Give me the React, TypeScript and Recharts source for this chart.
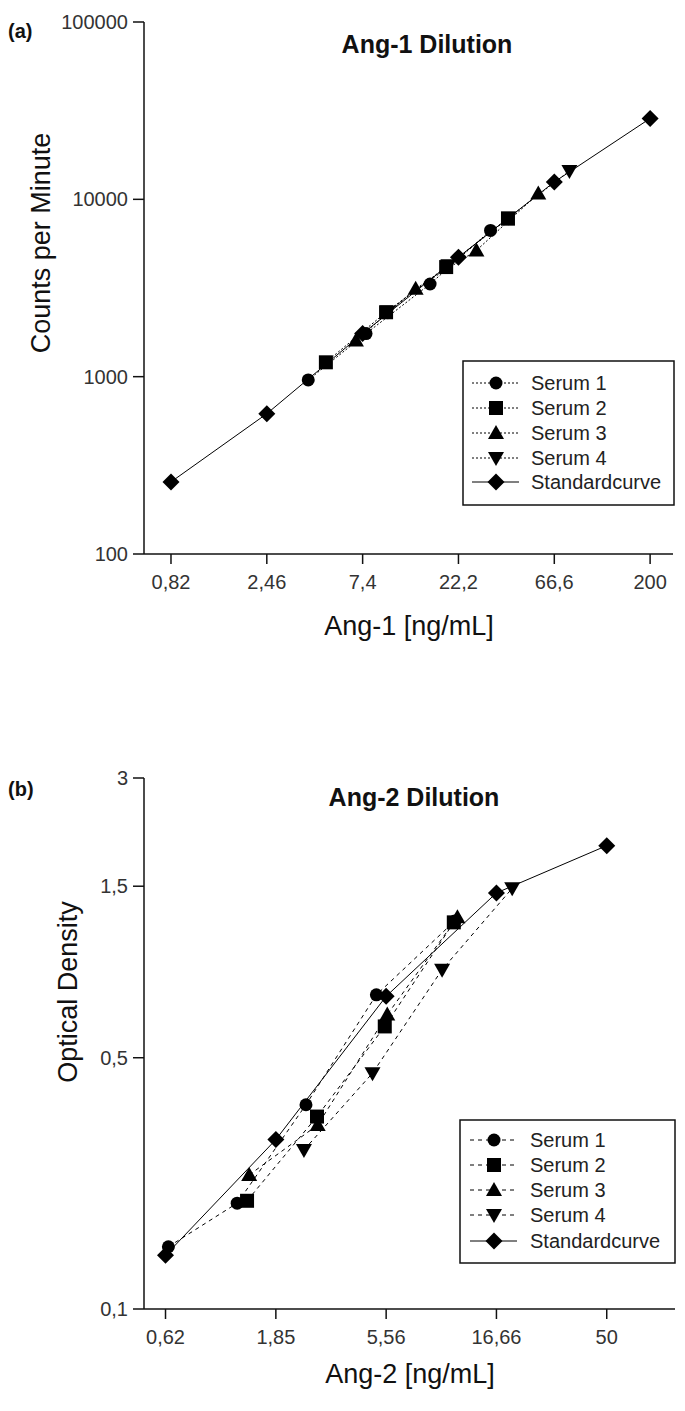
import React from 'react';
import { ScatterChart, Scatter, XAxis, YAxis } from 'recharts';

// ---------- Panel (a): Ang-1 dilution ----------
const ang1XTicks = [0.823, 2.469, 7.407, 22.22, 66.67, 200];
const ang1XLabels = ['0,82', '2,46', '7,4', '22,2', '66,6', '200'];
const ang1YTicks = [100, 1000, 10000, 100000];
const ang1YLabels = ['100', '1000', '10000', '100000'];

const ang1Serum1 = [[3.97, 958], [7.7, 1750], [16.05, 3330], [32.1, 6680]];
const ang1Serum2 = [[4.86, 1205], [9.69, 2308], [19.3, 4150], [39.2, 7780]];
const ang1Serum3 = [[6.86, 1597], [13.6, 3130], [27.3, 5150], [55.5, 10770]];
const ang1Serum4 = [[9.9, 2330], [19.8, 4250], [39.6, 7900], [79.3, 14450]];
const ang1Standard = [[0.823, 255], [2.469, 618], [7.407, 1750], [22.22, 4720], [66.67, 12530], [200, 28580]];

// ---------- Panel (b): Ang-2 dilution ----------
const ang2XTicks = [0.617, 1.852, 5.556, 16.667, 50];
const ang2XLabels = ['0,62', '1,85', '5,56', '16,66', '50'];
const ang2YTicks = [0.1, 0.5, 1.5, 3];
const ang2YLabels = ['0,1', '0,5', '1,5', '3'];

const ang2Serum1 = [[0.635, 0.149], [1.26, 0.197], [2.5, 0.37], [5.04, 0.748], [11.0, 1.2]];
const ang2Serum2 = [[1.39, 0.2], [2.79, 0.343], [5.48, 0.611], [10.9, 1.19]];
const ang2Serum3 = [[1.42, 0.236], [2.81, 0.325], [5.62, 0.659], [11.3, 1.23]];
const ang2Serum4 = [[2.45, 0.277], [4.85, 0.453], [9.7, 0.879], [19.5, 1.48]];
const ang2Standard = [[0.617, 0.141], [1.852, 0.296], [5.556, 0.741], [16.667, 1.437], [50, 1.945]];

const seriesNames = ['Serum 1', 'Serum 2', 'Serum 3', 'Serum 4', 'Standardcurve'];
const seriesKinds = ['circle', 'square', 'triangle', 'invtriangle', 'diamond'];

const toPts = (arr: number[][]) => arr.map(([x, y]) => ({ x, y }));

const FONT = '"Liberation Sans", Arial, sans-serif';

function Marker({ cx, cy, kind }: { cx: number; cy: number; kind: string }) {
  if (cx == null || cy == null || isNaN(cx) || isNaN(cy)) return null;
  const f = '#000';
  switch (kind) {
    case 'circle':
      return <circle cx={cx} cy={cy} r={6.5} fill={f} />;
    case 'square':
      return <rect x={cx - 7} y={cy - 7} width={14} height={14} fill={f} />;
    case 'triangle':
      return <polygon points={`${cx},${cy - 8} ${cx + 8},${cy + 6} ${cx - 8},${cy + 6}`} fill={f} />;
    case 'invtriangle':
      return <polygon points={`${cx},${cy + 8} ${cx + 8},${cy - 6} ${cx - 8},${cy - 6}`} fill={f} />;
    case 'diamond':
    default:
      return <polygon points={`${cx},${cy - 8.5} ${cx + 8.5},${cy} ${cx},${cy + 8.5} ${cx - 8.5},${cy}`} fill={f} />;
  }
}

const shapeFor = (kind: string) => (p: any) => <Marker cx={p.cx} cy={p.cy} kind={kind} />;

function Panel({
  data, xTicks, xLabels, yTicks, yLabels, xDomain, yDomain, top, height, marginTop, marginBottom, marginRight, dash,
}: any) {
  const axisStyle = { stroke: '#111', strokeWidth: 1.5 };
  const tickStyle = { fontSize: 20, fill: '#333', fontFamily: FONT };
  return (
    <div style={{ position: 'absolute', left: 0, top, width: 685, height }}>
      <ScatterChart
        width={685}
        height={height}
        margin={{ top: marginTop, right: marginRight, bottom: marginBottom, left: 0 }}
      >
        <XAxis
          type="number"
          dataKey="x"
          scale="log"
          domain={xDomain}
          allowDataOverflow
          ticks={xTicks}
          interval={0}
          tickFormatter={(v: number, i: number) => xLabels[i]}
          axisLine={axisStyle}
          tickLine={axisStyle}
          tickSize={10}
          tickMargin={11}
          tick={tickStyle}
          height={40}
        />
        <YAxis
          type="number"
          dataKey="y"
          scale="log"
          domain={yDomain}
          allowDataOverflow
          ticks={yTicks}
          interval={0}
          tickFormatter={(v: number, i: number) => yLabels[i]}
          axisLine={axisStyle}
          tickLine={axisStyle}
          tickSize={11}
          tickMargin={5}
          tick={tickStyle}
          width={144}
        />
        {data.map((d: number[][], i: number) => (
          <Scatter
            key={seriesNames[i]}
            name={seriesNames[i]}
            data={toPts(d)}
            fill="#000"
            line={{ stroke: '#000', strokeWidth: 1, strokeDasharray: i === 4 ? undefined : dash }}
            lineType="joint"
            shape={shapeFor(seriesKinds[i])}
            isAnimationActive={false}
          />
        ))}
      </ScatterChart>
    </div>
  );
}

function LegendBox({ x, y, w, h, rowY, lineX1, lineX2, markX, textX, dash }: any) {
  return (
    <g>
      <rect x={x} y={y} width={w} height={h} fill="#fff" stroke="#111" strokeWidth={1.5} />
      {seriesNames.map((n, i) => (
        <g key={n}>
          <line
            x1={lineX1}
            x2={lineX2}
            y1={rowY[i]}
            y2={rowY[i]}
            stroke="#000"
            strokeWidth={1}
            strokeDasharray={i === 4 ? undefined : dash}
          />
          <Marker cx={markX} cy={rowY[i]} kind={seriesKinds[i]} />
          <text x={textX} y={rowY[i]} dy="0.36em" fontSize={20} fill="#222" fontFamily={FONT}>
            {n}
          </text>
        </g>
      ))}
    </g>
  );
}

export default function App() {
  return (
    <div style={{ position: 'absolute', left: 0, top: 0, width: 685, height: 1411, background: '#fff', overflow: 'hidden' }}>
      <Panel
        data={[ang1Serum1, ang1Serum2, ang1Serum3, ang1Serum4, ang1Standard]}
        xTicks={ang1XTicks}
        xLabels={ang1XLabels}
        yTicks={ang1YTicks}
        yLabels={ang1YLabels}
        xDomain={[0.604, 260]}
        yDomain={[100, 100000]}
        top={0}
        height={650}
        marginTop={22}
        marginBottom={56}
        marginRight={12}
        dash="2 2"
      />
      <Panel
        data={[ang2Serum1, ang2Serum2, ang2Serum3, ang2Serum4, ang2Standard]}
        xTicks={ang2XTicks}
        xLabels={ang2XLabels}
        yTicks={ang2YTicks}
        yLabels={ang2YLabels}
        xDomain={[0.498, 98.7]}
        yDomain={[0.1, 3]}
        top={700}
        height={711}
        marginTop={78}
        marginBottom={62}
        marginRight={10}
        dash="4 4"
      />
      <svg width={685} height={1411} style={{ position: 'absolute', left: 0, top: 0, pointerEvents: 'none' }}>
        <text x={8} y={38} fontSize={20} fontWeight="bold" fontFamily={FONT} fill="#111">(a)</text>
        <text x={427} y={53} fontSize={25} fontWeight="bold" fontFamily={FONT} fill="#111" textAnchor="middle">Ang-1 Dilution</text>
        <text transform="translate(50,243) rotate(-90)" fontSize={27} fontFamily={FONT} fill="#111" textAnchor="middle">Counts per Minute</text>
        <text x={409} y={635} fontSize={27} fontFamily={FONT} fill="#111" textAnchor="middle">Ang-1 [ng/mL]</text>
        <LegendBox x={463} y={361} w={211} h={144} rowY={[383, 408, 433, 458, 482]} lineX1={472} lineX2={519} markX={496} textX={531} dash="2 2" />

        <text x={8} y={796} fontSize={20} fontWeight="bold" fontFamily={FONT} fill="#111">(b)</text>
        <text x={414} y={806} fontSize={25} fontWeight="bold" fontFamily={FONT} fill="#111" textAnchor="middle">Ang-2 Dilution</text>
        <text transform="translate(77,992) rotate(-90)" fontSize={27} fontFamily={FONT} fill="#111" textAnchor="middle">Optical Density</text>
        <text x={410} y={1383} fontSize={27} fontFamily={FONT} fill="#111" textAnchor="middle">Ang-2 [ng/mL]</text>
        <LegendBox x={460} y={1120} w={215} h={143} rowY={[1140, 1165, 1190, 1215, 1241]} lineX1={470} lineX2={517} markX={494} textX={530} dash="4 4" />
      </svg>
    </div>
  );
}
